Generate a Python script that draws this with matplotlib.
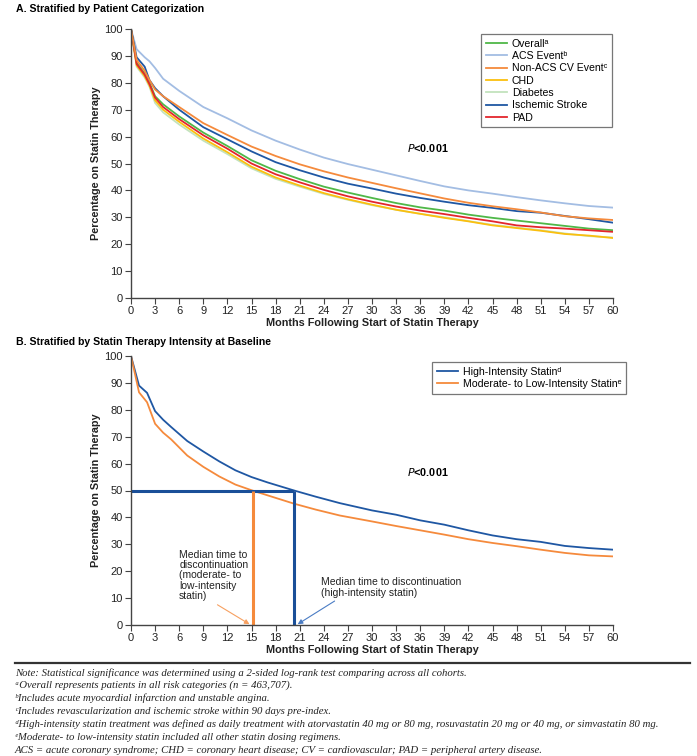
import matplotlib
matplotlib.use("Agg")
import matplotlib.pyplot as plt

plt.rcParams["font.family"] = ["Liberation Sans", "DejaVu Sans"]

# ---- panel A data ----
months_a = [0, 0.7, 1.7, 2.3, 3, 4, 6, 9, 12, 15, 18, 21, 24, 27, 30, 33, 36, 39, 42, 45, 48, 51, 54, 57, 60]
overall = [100, 87.5, 83.5, 80, 75, 72, 67.5, 61.5, 56.5, 51.2, 47.3, 44.2, 41.4, 39.2, 37.2, 35.3, 33.7, 32.5, 31, 29.8, 28.8, 27.8, 26.8, 25.8, 25.2]
acs = [100, 92.5, 89.5, 88, 85.5, 81.5, 77, 71, 66.8, 62.3, 58.5, 55.2, 52.2, 49.8, 47.7, 45.6, 43.5, 41.5, 40, 38.8, 37.5, 36.3, 35.2, 34.2, 33.6]
non_acs = [100, 88.5, 84.5, 81, 77.5, 75, 71, 65, 60.6, 56.3, 52.8, 49.7, 47.1, 44.8, 42.8, 40.8, 38.9, 37, 35.4, 34.1, 33, 31.8, 30.4, 29.6, 29.0]
chd = [100, 86.5, 82.5, 79, 73.5, 70, 65.5, 59.3, 54.2, 48.8, 44.8, 41.8, 39, 36.7, 34.7, 32.8, 31.3, 29.8, 28.5, 27, 26, 25, 23.8, 23.2, 22.3]
diabetes = [100, 86, 82, 78.5, 72.5, 69, 64.5, 58.5, 53.5, 48.2, 44.3, 41.4, 38.7, 36.5, 34.5, 32.8, 31.3, 30, 28.6, 27.2, 26.2, 25.2, 24, 23, 22.5]
stroke = [100, 89.5, 86, 81, 78, 75, 70, 63.5, 59, 54.5, 50.5, 47.5, 44.8, 42.5, 40.7, 38.8, 37.2, 35.8, 34.5, 33.5, 32.3, 31.7, 30.5, 29.3, 28.0]
pad = [100, 87, 83, 79.5, 74.5, 71, 66.5, 60.5, 55.5, 50, 46, 43, 40.2, 37.8, 35.8, 34, 32.5, 31.2, 29.8, 28.5, 27, 26.3, 25.8, 25.2, 24.6]

labels_a = ["Overallᵃ", "ACS Eventᵇ", "Non-ACS CV Eventᶜ", "CHD", "Diabetes", "Ischemic Stroke", "PAD"]
colors_a = ["#4fb848", "#a3bde3", "#f58a3c", "#fbbf0e", "#c3e3bd", "#1f57a3", "#e3262d"]

# ---- panel B data ----
months_b = [0, 1, 2, 3, 4, 5, 7, 9, 11, 13, 15, 17, 20.3, 23, 26, 30, 33, 36, 39, 42, 45, 48, 51, 54, 57, 60]
high = [100, 89, 86.3, 79.5, 76.3, 73.6, 68.4, 64.5, 60.8, 57.5, 55.0, 53.0, 50, 47.7, 45.3, 42.6, 41, 38.9, 37.3, 35.2, 33.3, 31.9, 30.9, 29.4, 28.6, 28]
moderate = [100, 86.5, 82.8, 74.8, 71.5, 69, 63, 58.8, 55.2, 52.2, 50.1, 48.2, 45.1, 42.9, 40.7, 38.5, 36.8, 35.2, 33.6, 31.9, 30.5, 29.3, 28, 26.8, 25.9, 25.5]
labels_b = ["High-Intensity Statinᵈ", "Moderate- to Low-Intensity Statinᵉ"]
colors_b = ["#1f57a3", "#f58a3c"]
median_high = 20.3
median_moderate = 15.2

footnotes = [
    "Note: Statistical significance was determined using a 2-sided log-rank test comparing across all cohorts.",
    "ᵃOverall represents patients in all risk categories (n = 463,707).",
    "ᵇIncludes acute myocardial infarction and unstable angina.",
    "ᶜIncludes revascularization and ischemic stroke within 90 days pre-index.",
    "ᵈHigh-intensity statin treatment was defined as daily treatment with atorvastatin 40 mg or 80 mg, rosuvastatin 20 mg or 40 mg, or simvastatin 80 mg.",
    "ᵉModerate- to low-intensity statin included all other statin dosing regimens.",
    "ACS = acute coronary syndrome; CHD = coronary heart disease; CV = cardiovascular; PAD = peripheral artery disease.",
]

W, H = 697, 756
fig = plt.figure(figsize=(W / 100, H / 100), dpi=100)


def style_axes(ax):
    ax.set_xlim(0, 60)
    ax.set_ylim(0, 100)
    ax.set_xticks(range(0, 61, 3))
    ax.set_yticks(range(0, 101, 10))
    for s in ["top", "right"]:
        ax.spines[s].set_visible(False)
    for s in ["left", "bottom"]:
        ax.spines[s].set_color("#444444")
        ax.spines[s].set_linewidth(1.0)
    ax.tick_params(direction="out", length=4, width=0.8, color="#444444",
                   labelsize=8, labelcolor="#222222", pad=2)
    ax.set_xlabel("Months Following Start of Statin Therapy", fontsize=7.8,
                  fontweight="bold", color="#222222", labelpad=1)
    ax.set_ylabel("Percentage on Statin Therapy", fontsize=7.8,
                  fontweight="bold", color="#222222", labelpad=2)


def add_legend(ax, handles, labels, anchor):
    leg = ax.legend(handles, labels, loc="upper right", bbox_to_anchor=anchor,
                    borderaxespad=0, fontsize=7.6, frameon=True, fancybox=False,
                    edgecolor="#555555", handlelength=2.0, labelspacing=0.22,
                    borderpad=0.45, handletextpad=0.45)
    leg.get_frame().set_linewidth(0.9)
    return leg


# ---- panel A ----
ax1 = fig.add_axes([131 / W, 1 - 298 / H, 482 / W, 269 / H])
series_a = [overall, acs, non_acs, chd, diabetes, stroke, pad]
draw_order = [4, 1, 3, 0, 6, 5, 2]
handles = {}
for i in draw_order:
    ln, = ax1.plot(months_a, series_a[i], color=colors_a[i], lw=1.3)
    handles[i] = ln
style_axes(ax1)
add_legend(ax1, [handles[i] for i in range(7)], labels_a,
           ((612 - 131) / 482, (298 - 34) / 269))
ax1.text(36.9, 55.6, r"$\bf{\it{P}}$" + "<0.001", fontsize=7.8, fontweight="bold",
         ha="center", va="center")
fig.text(16 / W, 1 - 9 / H, "A. Stratified by Patient Categorization", fontsize=7.6,
         fontweight="bold", va="center", ha="left")

# ---- panel B ----
ax2 = fig.add_axes([131 / W, 1 - 625 / H, 482 / W, 269 / H])
h1, = ax2.plot(months_b, high, color=colors_b[0], lw=1.3)
h2, = ax2.plot(months_b, moderate, color=colors_b[1], lw=1.3)
ax2.plot([0, median_high], [50, 50], color="#1a4f98", lw=2.2, solid_capstyle="butt")
ax2.plot([median_moderate, median_moderate], [0, 50], color=colors_b[1], lw=2.2,
         solid_capstyle="butt")
ax2.plot([median_high, median_high], [0, 50], color="#1a4f98", lw=2.2,
         solid_capstyle="butt")
style_axes(ax2)
add_legend(ax2, [h1, h2], labels_b, ((626 - 131) / 482, (625 - 362) / 269))
ax2.text(36.9, 57, r"$\bf{\it{P}}$" + "<0.001", fontsize=7.8, fontweight="bold",
         ha="center", va="center")
ax2.annotate("Median time to\ndiscontinuation\n(moderate- to\nlow-intensity\nstatin)",
             xy=(14.75, 0.3), xytext=(6.0, 28.0), fontsize=7.5, color="#222222",
             ha="left", va="top", linespacing=1.05,
             arrowprops=dict(arrowstyle="-|>", color="#f7a060", lw=0.8,
                             mutation_scale=7, shrinkA=1, shrinkB=0,
                             relpos=(0.47, 0.0)))
ax2.annotate("Median time to discontinuation\n(high-intensity statin)",
             xy=(20.75, 0.3), xytext=(23.6, 17.8), fontsize=7.5, color="#222222",
             ha="left", va="top", linespacing=1.05,
             arrowprops=dict(arrowstyle="-|>", color="#4a7cc4", lw=0.8,
                             mutation_scale=7, shrinkA=1, shrinkB=0,
                             relpos=(0.14, 0.0)))
fig.text(16 / W, 1 - 342 / H, "B. Stratified by Statin Therapy Intensity at Baseline",
         fontsize=7.6, fontweight="bold", va="center", ha="left")

# ---- footnotes ----
fig.add_artist(plt.Line2D([15 / W, 690 / W], [1 - 663 / H, 1 - 663 / H],
                          color="#333333", lw=1.6))
for k, line in enumerate(footnotes):
    fig.text(15 / W, 1 - (672.7 + 12.9 * k) / H, line, fontsize=7.75, style="italic",
             family=["Liberation Serif", "DejaVu Serif"], color="#222222",
             va="center", ha="left")

fig.savefig("out.png", dpi=100)
